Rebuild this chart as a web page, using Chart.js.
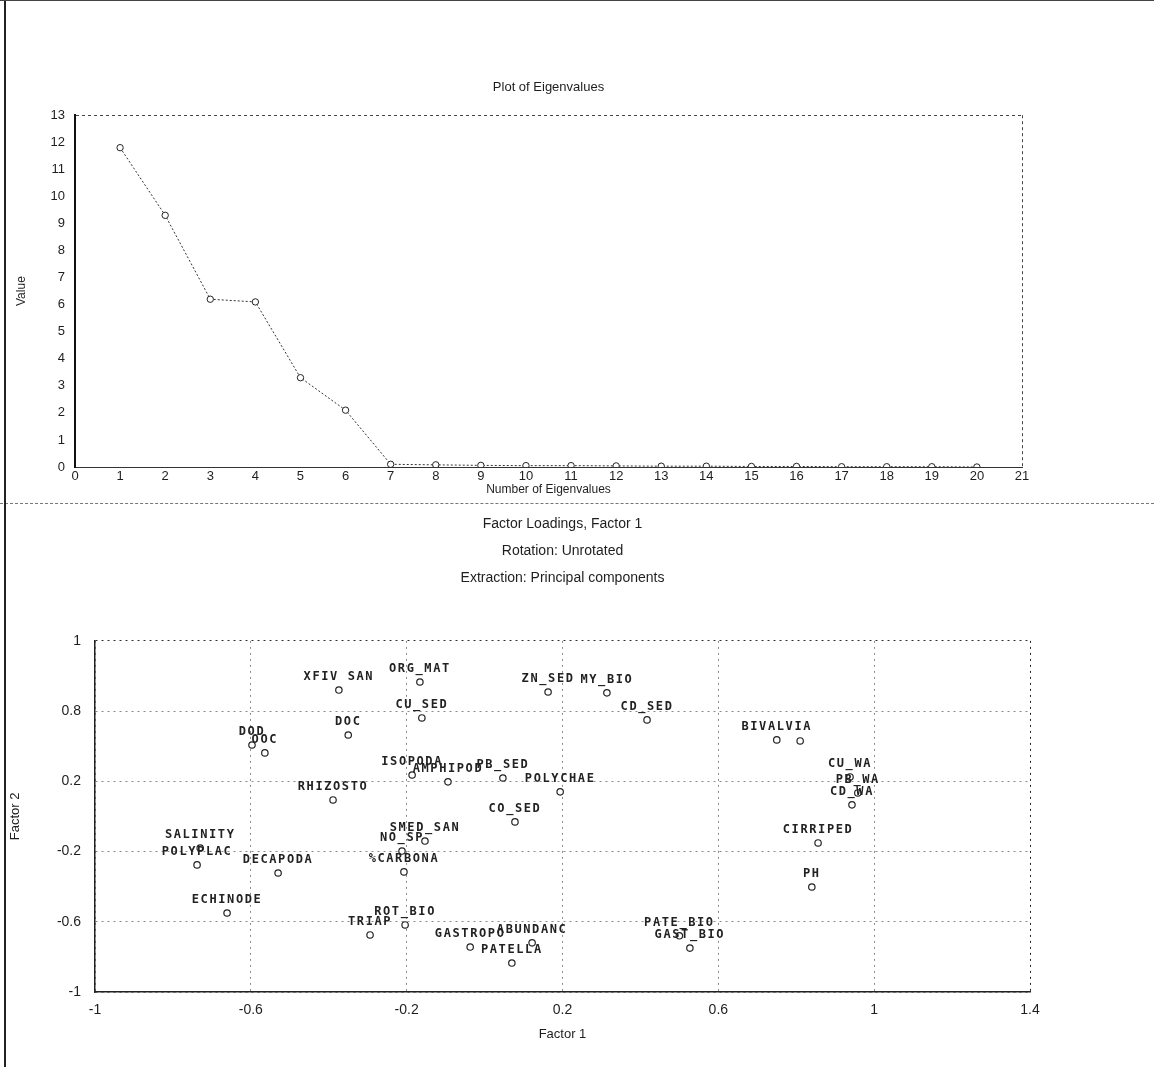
<!DOCTYPE html>
<html>
<head>
<meta charset="utf-8">
<title>Eigenvalues and Factor Loadings</title>
<script src="https://cdn.jsdelivr.net/npm/chart.js@4.4.1/dist/chart.umd.min.js"></script>
<style>
  body { margin: 0; background: #fff; }
  #page { position: relative; width: 1154px; height: 1067px; overflow: hidden; }
  #leftLine { position: absolute; left: 4px; top: 0; width: 2px; height: 1067px; background: #222; }
  #topLine { position: absolute; left: 0; top: 0; width: 1154px; height: 1px; background: #444; }
  #sepLine { position: absolute; left: 0; top: 503px; width: 1154px; border-top: 1px dashed #777; }
  #topBox { position: absolute; left: 0; top: 0; }
  #bottomBox { position: absolute; left: 0; top: 505px; }
</style>
</head>
<body>
<div id="page">
  <div id="topBox"><canvas id="screeChart" width="1154" height="505"></canvas></div>
  <div id="bottomBox"><canvas id="loadChart" width="1154" height="562"></canvas></div>
  <div id="sepLine"></div>
  <div id="leftLine"></div>
  <div id="topLine"></div>
</div>
<script>
// DATA - scree plot
const eigenNumbers = [1, 2, 3, 4, 5, 6, 7, 8, 9, 10, 11, 12, 13, 14, 15, 16, 17, 18, 19, 20];
const eigenValues = [11.8, 9.3, 6.2, 6.1, 3.3, 2.1, 0.1, 0.08, 0.06, 0.05, 0.05, 0.04, 0.03, 0.03, 0.02, 0.02, 0.01, 0.01, 0.01, 0.0];

// DATA - factor loadings
const factorLabels = [
  "XFIV SAN", "ORG_MAT", "ZN_SED", "MY_BIO", "CU_SED", "CD_SED", "BIVALVIA", "",
  "DOC", "DOD", "OOC", "ISOPODA", "AMPHIPOD", "PB_SED", "POLYCHAE", "RHIZOSTO",
  "CO_SED", "SMED_SAN", "NO_SP", "%CARBONA", "SALINITY", "POLYPLAC", "DECAPODA",
  "ECHINODE", "ROT_BIO", "TRIAP", "GASTROPO", "ABUNDANC", "PATELLA", "PATE_BIO",
  "GAST_BIO", "PH", "CIRRIPED", "CU_WA", "PB_WA", "CD_WA"
];
const factor1 = [
  -0.374, -0.166, 0.163, 0.314, -0.161, 0.417, 0.75, 0.81,
  -0.35, -0.597, -0.564, -0.186, -0.094, 0.047, 0.194, -0.389,
  0.078, -0.153, -0.212, -0.207, -0.73, -0.738, -0.53,
  -0.661, -0.204, -0.294, -0.037, 0.122, 0.07, 0.5,
  0.527, 0.84, 0.856, 0.938, 0.958, 0.943
];
const factor2 = [
  0.72, 0.766, 0.709, 0.704, 0.561, 0.55, 0.436, 0.43,
  0.464, 0.407, 0.362, 0.236, 0.197, 0.219, 0.14, 0.094,
  -0.031, -0.14, -0.197, -0.316, -0.18, -0.276, -0.322,
  -0.55, -0.618, -0.675, -0.744, -0.72, -0.835, -0.68,
  -0.75, -0.402, -0.151, 0.225, 0.134, 0.066
];

// TICK LABELS (as printed)
const loadXTicks = ["-1", "-0.6", "-0.2", "0.2", "0.6", "1", "1.4"];
const loadYTicks = ["-1", "-0.6", "-0.2", "0.2", "0.8", "1"];

const FONT = "'Liberation Sans', Arial, sans-serif";
const INK = "#1e1e1e";

// draws the variable name over every loading point
const pointNames = {
  id: "pointNames",
  afterDatasetsDraw(chart) {
    const ctx = chart.ctx;
    const meta = chart.getDatasetMeta(0);
    ctx.save();
    ctx.font = "bold 12px 'DejaVu Sans Mono', monospace";
    ctx.letterSpacing = "1.6px";
    ctx.fillStyle = "#222";
    ctx.textAlign = "center";
    ctx.textBaseline = "middle";
    meta.data.forEach((pt, i) => {
      if (factorLabels[i]) ctx.fillText(factorLabels[i], pt.x, pt.y - 13);
    });
    ctx.restore();
  }
};

// SCREE PLOT
new Chart(document.getElementById("screeChart"), {
  type: "scatter",
  data: {
    datasets: [{
      data: eigenNumbers.map((n, i) => ({ x: n, y: eigenValues[i] })),
      showLine: true,
      borderColor: "#333",
      borderWidth: 1,
      borderDash: [2, 2],
      pointRadius: 3.2,
      pointBackgroundColor: "#fff",
      pointBorderColor: "#222",
      pointBorderWidth: 1
    }]
  },
  options: {
    responsive: false,
    animation: false,
    devicePixelRatio: 1,
    layout: { padding: { left: 0, right: 132, top: 0, bottom: 8 } },
    plugins: {
      legend: { display: false },
      tooltip: { enabled: false },
      title: {
        display: true,
        fullSize: false,
        text: "Plot of Eigenvalues",
        color: INK,
        font: { family: FONT, size: 13, weight: "normal" },
        padding: { top: 80, bottom: 19.6 }
      }
    },
    scales: {
      x: {
        type: "linear",
        min: 0, max: 21,
        ticks: { stepSize: 1, color: INK, padding: 2, font: { family: FONT, size: 13 } },
        grid: {
          drawTicks: false,
          color: c => (c.tick && c.tick.value === 21 ? "#444" : "rgba(0,0,0,0)")
        },
        border: { display: true, color: "#333", width: 1, dash: [3, 3] },
        title: { display: true, text: "Number of Eigenvalues", color: INK, font: { family: FONT, size: 12 }, padding: 0 },
        afterFit: s => { s.height = 30; }
      },
      y: {
        min: 0, max: 13,
        ticks: { stepSize: 1, color: INK, padding: 10, font: { family: FONT, size: 13 } },
        grid: {
          drawTicks: false,
          color: c => (c.tick && c.tick.value === 13 ? "#444" : "rgba(0,0,0,0)")
        },
        border: { display: true, color: "#111", width: 2, dash: [3, 3] },
        title: { display: true, text: "Value", color: INK, font: { family: FONT, size: 12 }, padding: { top: 14, bottom: 0 } },
        afterFit: s => { s.width = 75; }
      }
    }
  }
});

// FACTOR LOADINGS
new Chart(document.getElementById("loadChart"), {
  type: "scatter",
  data: {
    datasets: [{
      data: factor1.map((v, i) => ({ x: v, y: factor2[i] })),
      pointRadius: 3.2,
      pointBackgroundColor: "#fff",
      pointBorderColor: "#222",
      pointBorderWidth: 1.2
    }]
  },
  plugins: [pointNames],
  options: {
    responsive: false,
    animation: false,
    devicePixelRatio: 1,
    layout: { padding: { left: 0, right: 124, top: 0, bottom: 23 } },
    plugins: {
      legend: { display: false },
      tooltip: { enabled: false },
      title: {
        display: true,
        fullSize: false,
        text: ["Factor Loadings, Factor 1", "Rotation: Unrotated", "Extraction: Principal components"],
        color: INK,
        font: { family: FONT, size: 14, weight: "normal", lineHeight: 1.95 },
        padding: { top: 5, bottom: 49 }
      }
    },
    scales: {
      x: {
        type: "linear",
        min: -1, max: 1.4,
        ticks: {
          stepSize: 0.4, color: INK, padding: 10,
          font: { family: FONT, size: 14 },
          callback: (v, i) => loadXTicks[i]
        },
        grid: {
          drawTicks: false,
          color: c => (c.tick && c.tick.value > 1.3 ? "#222" : "#8a8a8a")
        },
        border: { display: true, color: "#222", width: 1.5, dash: [2, 4] },
        title: { display: true, text: "Factor 1", color: INK, font: { family: FONT, size: 13 }, padding: 2 },
        afterFit: s => { s.height = 52; }
      },
      y: {
        min: -1, max: 1,
        ticks: {
          stepSize: 0.4, color: INK, padding: 14,
          font: { family: FONT, size: 14 },
          callback: (v, i) => loadYTicks[i]
        },
        grid: {
          drawTicks: false,
          color: c => (c.tick && c.tick.value > 0.99 ? "#333" : "#8a8a8a")
        },
        border: { display: true, color: "#222", width: 1.5, dash: [2, 4] },
        title: { display: true, text: "Factor 2", color: INK, font: { family: FONT, size: 13 }, padding: { top: 8, bottom: 0 } },
        afterFit: s => { s.width = 95; }
      }
    }
  }
});
</script>
</body>
</html>
